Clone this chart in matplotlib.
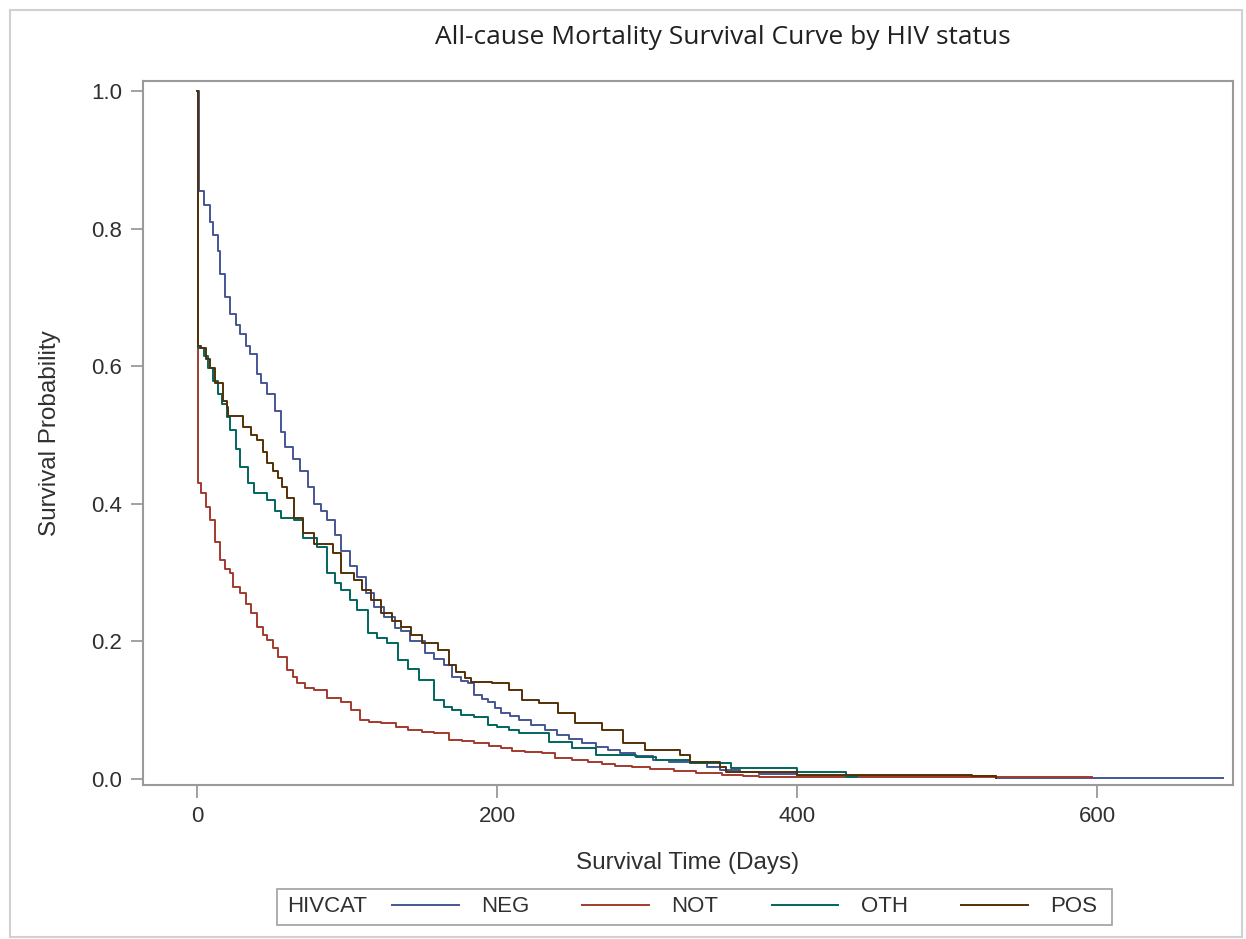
import matplotlib
matplotlib.use("Agg")
import matplotlib.pyplot as plt
from matplotlib.lines import Line2D
from matplotlib.patches import Rectangle

# ---- data ----
groups = ["NEG", "NOT", "OTH", "POS"]
colors = {"NEG": "#445694", "NOT": "#A23A2E", "OTH": "#01665E", "POS": "#543005"}

neg_t = [0, 1.5, 5, 8.7, 11, 14, 15.4, 19, 22, 26, 29, 33, 35.6, 40, 43, 46.7, 52, 56, 59, 64,
         69, 74, 78, 83, 87, 92, 96, 102, 107, 113, 118, 125, 132, 136, 142, 152, 158, 165, 170, 176,
         181, 185, 190, 194, 199, 203, 209, 215, 223, 232, 240, 248, 257, 266, 274, 282, 292, 304, 315,
         329, 340, 349, 362, 375, 400, 430, 533, 684]
neg_s = [1.0, 0.855, 0.835, 0.81, 0.79, 0.768, 0.734, 0.70, 0.676, 0.66, 0.647, 0.63, 0.618, 0.589,
         0.575, 0.56, 0.535, 0.505, 0.482, 0.465, 0.448, 0.425, 0.40, 0.39, 0.376, 0.355, 0.332, 0.31,
         0.293, 0.27, 0.25, 0.235, 0.22, 0.215, 0.20, 0.183, 0.175, 0.165, 0.148, 0.143, 0.139, 0.122,
         0.117, 0.112, 0.103, 0.096, 0.091, 0.086, 0.078, 0.071, 0.064, 0.058, 0.052, 0.046, 0.042,
         0.038, 0.033, 0.028, 0.025, 0.023, 0.018, 0.013, 0.010, 0.007, 0.005, 0.004, 0.002, 0.002]

not_t = [0, 1, 3, 6, 9, 12, 15.5, 19, 22, 24, 29, 33, 36, 40, 44, 47, 51, 54, 60, 64, 67, 72, 78,
         87, 96, 103, 109, 115, 123, 133, 141, 150, 158, 168, 177, 185, 195, 203, 210, 219, 230, 239,
         250, 261, 270, 279, 290, 302, 318, 333, 350, 364, 375, 433, 597]
not_s = [1.0, 0.43, 0.415, 0.395, 0.376, 0.345, 0.318, 0.305, 0.299, 0.279, 0.27, 0.255, 0.241,
         0.221, 0.21, 0.202, 0.19, 0.177, 0.158, 0.148, 0.139, 0.133, 0.129, 0.118, 0.112, 0.10, 0.086,
         0.083, 0.081, 0.076, 0.071, 0.069, 0.067, 0.057, 0.055, 0.052, 0.048, 0.045, 0.041, 0.039,
         0.038, 0.030, 0.027, 0.025, 0.022, 0.019, 0.017, 0.015, 0.012, 0.009, 0.006, 0.004, 0.003,
         0.003, 0.003]

oth_t = [0, 1, 5, 7.5, 11, 14, 17, 20, 22, 26, 29, 34, 38, 47, 52, 56, 65, 71, 80, 87, 92, 96, 102,
         107, 114, 120, 127, 134, 141, 148, 158, 165, 170, 176, 185, 194, 200, 208, 215, 235, 250, 266,
         293, 306, 329, 356, 400, 433, 440]
oth_s = [1.0, 0.627, 0.615, 0.598, 0.579, 0.56, 0.545, 0.526, 0.507, 0.48, 0.453, 0.43, 0.415, 0.405,
         0.39, 0.38, 0.376, 0.351, 0.337, 0.299, 0.285, 0.274, 0.26, 0.245, 0.212, 0.205, 0.197, 0.173,
         0.16, 0.144, 0.115, 0.105, 0.10, 0.093, 0.09, 0.078, 0.075, 0.071, 0.067, 0.054, 0.045, 0.035,
         0.032, 0.028, 0.023, 0.016, 0.01, 0.003, 0.003]

pos_t = [0, 1, 3, 6, 9, 12, 17.5, 20, 21, 29, 31, 36, 40, 44, 47, 51, 54, 57, 60, 65, 71, 78, 87, 91,
         96, 105, 110, 116, 123, 130, 136, 143, 150, 161, 168, 173, 179, 183, 197, 208, 217, 228, 241,
         252, 270, 284, 299, 322, 329, 349, 353, 400, 517, 533]
pos_s = [1.0, 0.63, 0.626, 0.61, 0.598, 0.576, 0.55, 0.54, 0.528, 0.528, 0.511, 0.50, 0.492, 0.475,
         0.459, 0.448, 0.438, 0.425, 0.409, 0.38, 0.357, 0.342, 0.342, 0.328, 0.299, 0.289, 0.275, 0.26,
         0.241, 0.23, 0.221, 0.21, 0.197, 0.187, 0.165, 0.155, 0.147, 0.141, 0.139, 0.129, 0.115, 0.11,
         0.096, 0.081, 0.071, 0.052, 0.042, 0.035, 0.025, 0.017, 0.01, 0.006, 0.004, 0.002]

series = {"NEG": (neg_t, neg_s), "NOT": (not_t, not_s), "OTH": (oth_t, oth_s), "POS": (pos_t, pos_s)}

x_ticks = [0, 200, 400, 600]
y_ticks = [0.0, 0.2, 0.4, 0.6, 0.8, 1.0]
title = "All-cause Mortality Survival Curve by HIV status"
x_label = "Survival Time (Days)"
y_label = "Survival Probability"
legend_title = "HIVCAT"

# ---- figure ----
W, H = 1246, 939
fig = plt.figure(figsize=(W / 100, H / 100), dpi=100)
fig.patch.set_facecolor("white")

# outer frame
fig.add_artist(Rectangle((10 / W, 2 / H), (W - 14) / W, (H - 12) / H, transform=fig.transFigure,
                         fill=False, edgecolor="#d0d0d0", linewidth=1.5))

ax_l, ax_r, ax_t, ax_b = 143, 1233, 81, 785
ax = fig.add_axes([ax_l / W, 1 - ax_b / H, (ax_r - ax_l) / W, (ax_b - ax_t) / H])

for g in groups:
    t, s = series[g]
    ax.plot(t, s, drawstyle="steps-post", color=colors[g], linewidth=1.4, label=g)

ax.set_xlim(-36, 690.7)
ax.set_ylim(-0.0087, 1.0145)
ax.set_xticks(x_ticks)
ax.set_yticks(y_ticks)
ax.set_xticklabels([str(v) for v in x_ticks])
ax.set_yticklabels([f"{v:.1f}" for v in y_ticks])

grey = "#9a9a9a"
txt_col = "#303030"
for sp in ax.spines.values():
    sp.set_color(grey)
    sp.set_linewidth(1.5)
ax.tick_params(colors=grey, labelcolor=txt_col, length=9, width=1.3, labelsize=16, pad=6)
for lab in ax.get_xticklabels() + ax.get_yticklabels():
    lab.set_fontfamily("Liberation Sans")

ax.set_xlabel(x_label, fontsize=17.5, color=txt_col, family="Liberation Sans", labelpad=18)
ax.set_ylabel(y_label, fontsize=17.5, color=txt_col, family="Liberation Sans", labelpad=22)

fig.text(0.58, 1 - 38 / H, title, ha="center", va="center", fontsize=19,
         family=["Open Sans", "DejaVu Sans"], color="#202020")

# legend: frame with the group title on the left, entries to its right
leg_l, leg_r, leg_t, leg_b = 277, 1112, 889, 925
leg_cy = (leg_t + leg_b) / 2
fig.add_artist(Rectangle((leg_l / W, 1 - leg_b / H), (leg_r - leg_l) / W, (leg_b - leg_t) / H,
                         transform=fig.transFigure, fill=False, edgecolor="#a0a0a0", linewidth=1.2))
fig.text(287 / W, 1 - leg_cy / H, legend_title, ha="left", va="center", fontsize=16,
         family="Liberation Sans", color=txt_col)
handles = [Line2D([], [], color=colors[g], linewidth=1.4, label=g) for g in groups]
leg = fig.legend(handles=handles, ncol=4, loc="center left", bbox_to_anchor=(392 / W, 1 - leg_cy / H),
                 frameon=False, handlelength=3.0, handletextpad=1.0, columnspacing=2.4,
                 borderpad=0, borderaxespad=0,
                 prop={"family": "Liberation Sans", "size": 16})
for txt in leg.get_texts():
    txt.set_color(txt_col)

fig.savefig("out.png", dpi=100, facecolor="white")
